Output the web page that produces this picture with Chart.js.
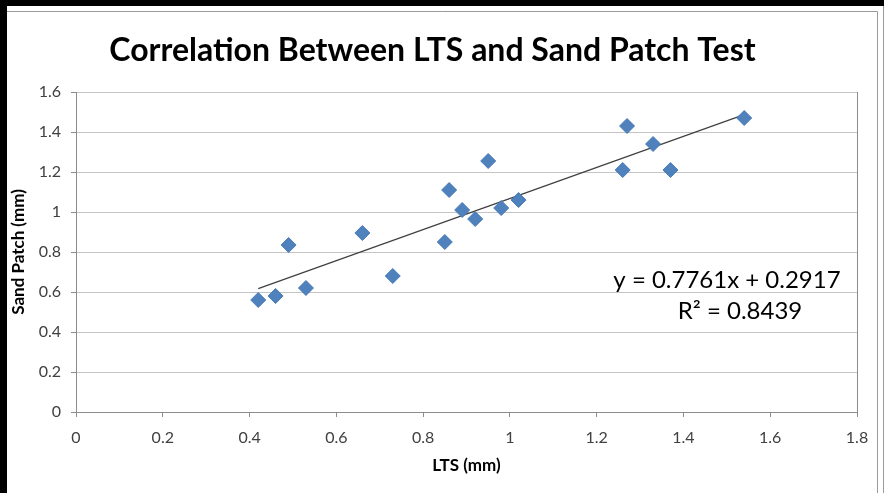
<!DOCTYPE html>
<html>
<head>
<meta charset="utf-8">
<script src="https://cdn.jsdelivr.net/npm/chart.js@4"></script>
<style>
  html, body { margin: 0; padding: 0; background: #fff; }
  #wrap { width: 887px; height: 493px; position: relative; }
</style>
</head>
<body>
<div id="wrap"><canvas id="grafica" width="887" height="493"></canvas></div>
<script>
// values
const ltsValues = [0.42, 0.46, 0.49, 0.53, 0.66, 0.73, 0.85, 0.86, 0.89, 0.92, 0.95, 0.98, 1.02, 1.26, 1.27, 1.33, 1.37, 1.54];
const sandValues = [0.56, 0.58, 0.835, 0.62, 0.895, 0.68, 0.85, 1.11, 1.01, 0.965, 1.255, 1.02, 1.06, 1.21, 1.43, 1.34, 1.21, 1.47];
const trendX = [0.42, 1.54];
const trendY = [0.617, 1.487];
const equationLines = ["y = 0.7761x + 0.2917", "R\u00b2 = 0.8439"];

const points = ltsValues.map(function(x, i) { return { x: x, y: sandValues[i] }; });
const trend = trendX.map(function(x, i) { return { x: x, y: trendY[i] }; });

const fuente = "Lato, 'Open Sans', sans-serif";

// black/gray frame round the chart, right border of plot, equation text
const extras = {
    id: 'extras',
    beforeDraw: function(chart) {
        const ctx = chart.ctx;
        ctx.save();
        ctx.fillStyle = '#000';
        ctx.fillRect(0, 0, 7, 493);
        ctx.fillRect(0, 0, 884, 6);
        ctx.strokeStyle = '#9a9a9a';
        ctx.lineWidth = 1;
        ctx.beginPath();
        ctx.moveTo(7, 11.5); ctx.lineTo(877.5, 11.5); ctx.lineTo(877.5, 493);
        ctx.moveTo(883.5, 6); ctx.lineTo(883.5, 493);
        ctx.stroke();
        ctx.restore();
    },
    afterDraw: function(chart) {
        const ctx = chart.ctx;
        const a = chart.chartArea;
        ctx.save();
        ctx.strokeStyle = '#8c8c8c';
        ctx.lineWidth = 1;
        ctx.beginPath();
        ctx.moveTo(Math.round(a.right) + 0.5, a.top);
        ctx.lineTo(Math.round(a.right) + 0.5, a.bottom);
        ctx.stroke();
        ctx.fillStyle = '#000';
        ctx.font = "24px " + fuente;
        ctx.textBaseline = 'middle';
        ctx.textAlign = 'center';
        ctx.fillText(equationLines[0], 727, 280);
        ctx.fillText(equationLines[1], 740, 311);
        ctx.restore();
    }
};

new Chart(document.getElementById('grafica'), {
    type: 'scatter',
    data: {
        datasets: [{
            label: 'Sand Patch',
            data: points,
            pointStyle: 'rectRot',
            pointRadius: 7.5,
            pointHoverRadius: 7.5,
            backgroundColor: '#4f81bd',
            borderColor: '#4a7ab5',
            borderWidth: 1,
            order: 1
        }, {
            label: 'Trend',
            type: 'line',
            data: trend,
            showLine: true,
            borderColor: '#404040',
            borderWidth: 1.2,
            pointRadius: 0,
            fill: false,
            order: 2
        }]
    },
    options: {
        responsive: false,
        animation: false,
        devicePixelRatio: 1,
        layout: { padding: { left: 8, right: 30, top: 0, bottom: 0 } },
        plugins: {
            legend: { display: false },
            tooltip: { enabled: false },
            title: {
                display: true,
                text: 'Correlation Between LTS and Sand Patch Test',
                color: '#000',
                font: { family: fuente, size: 32, weight: 'bold' },
                padding: { top: 31, bottom: 22.6 }
            }
        },
        scales: {
            x: {
                type: 'linear',
                min: 0,
                max: 1.8,
                ticks: {
                    stepSize: 0.2,
                    maxRotation: 0,
                    autoSkip: false,
                    color: '#404040',
                    font: { family: fuente, size: 16 },
                    padding: 11,
                    callback: function(v) { return Math.round(v * 10) / 10; }
                },
                grid: { drawOnChartArea: false, tickLength: 5, color: '#8c8c8c' },
                border: { color: '#8c8c8c' },
                title: {
                    display: true,
                    text: 'LTS (mm)',
                    color: '#000',
                    font: { family: fuente, size: 17, weight: 'bold' },
                    padding: { top: 4, bottom: 17 }
                },
                afterFit: function(scale) { scale.height = 81; }
            },
            y: {
                type: 'linear',
                min: 0,
                max: 1.6,
                ticks: {
                    stepSize: 0.2,
                    autoSkip: false,
                    color: '#404040',
                    font: { family: fuente, size: 16 },
                    padding: 10,
                    callback: function(v) { return Math.round(v * 10) / 10; }
                },
                grid: { color: '#c4c4c4', tickLength: 5, tickColor: '#8c8c8c' },
                border: { color: '#8c8c8c' },
                title: {
                    display: true,
                    text: 'Sand Patch (mm)',
                    color: '#000',
                    font: { family: fuente, size: 17, weight: 'bold' },
                    padding: { top: 0, bottom: 0 }
                },
                afterFit: function(scale) { scale.width = 68; }
            }
        }
    },
    plugins: [extras]
});
</script>
</body>
</html>
